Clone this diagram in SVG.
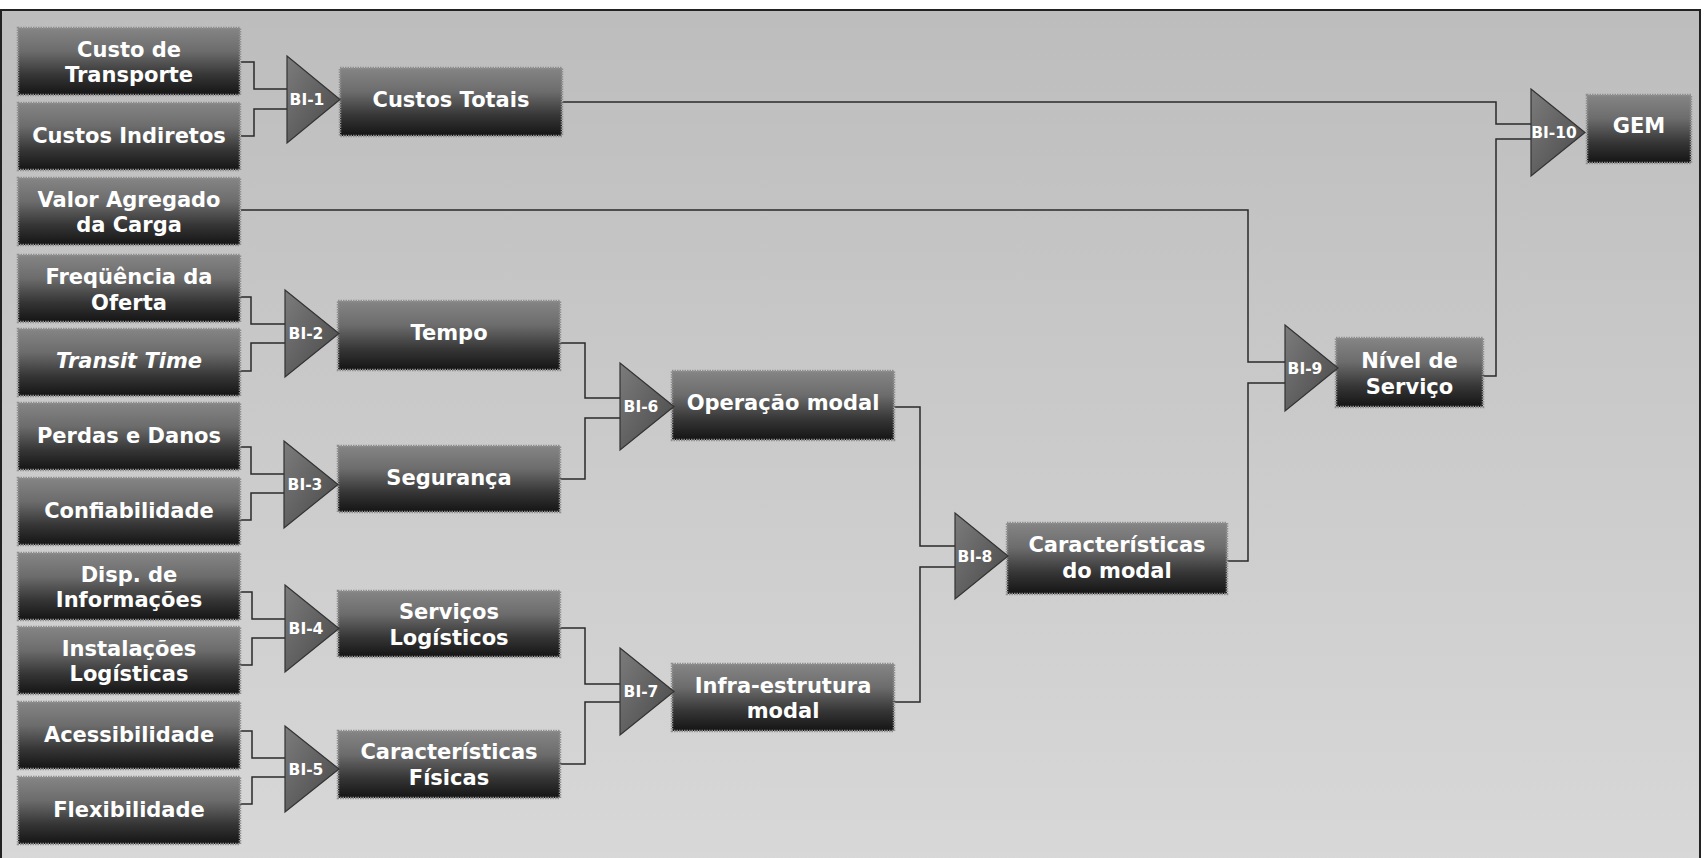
<svg xmlns="http://www.w3.org/2000/svg" width="1704" height="858" viewBox="0 0 1704 858">
  <defs>
    <linearGradient id="bg" x1="0" y1="0" x2="0" y2="1">
      <stop offset="0" stop-color="#bdbdbd"/>
      <stop offset="1" stop-color="#d8d8d8"/>
    </linearGradient>
    <linearGradient id="boxFill" x1="0" y1="0" x2="0" y2="1">
      <stop offset="0" stop-color="#858585"/>
      <stop offset="0.35" stop-color="#6c6c6c"/>
      <stop offset="0.7" stop-color="#363636"/>
      <stop offset="1" stop-color="#141414"/>
    </linearGradient>
    <linearGradient id="triFill" x1="0" y1="0" x2="1" y2="1">
      <stop offset="0" stop-color="#7c7c7c"/>
      <stop offset="1" stop-color="#474747"/>
    </linearGradient>
    <style>
      .box { fill: url(#boxFill); stroke: #8e8e8e; stroke-width: 2.5; stroke-dasharray: 1.5 1; }
      .lbl { font-family: "DejaVu Sans", Verdana, sans-serif; font-weight: bold; font-size: 21px; fill: #ffffff; text-anchor: middle; }
      .it { font-style: italic; }
      .tri { fill: url(#triFill); stroke: #333333; stroke-width: 1.2; stroke-linejoin: miter; }
      .bi { font-family: "DejaVu Sans", Verdana, sans-serif; font-weight: bold; font-size: 15.5px; fill: #ffffff; text-anchor: middle; }
      .wire { fill: none; stroke: #2a2a2a; stroke-width: 1.5; }
    </style>
  </defs>

  <!-- canvas -->
  <rect x="0" y="0" width="1704" height="858" fill="#ffffff"/>
  <rect x="1" y="10" width="1699" height="860" fill="url(#bg)" stroke="#222222" stroke-width="2"/>

  <!-- connectors -->
  <g id="connectors" class="wire">
    <polyline points="241,62 254,62 254,89 287,89"/>
    <polyline points="241,136 254,136 254,109 287,109"/>
    <polyline points="561,102 1496,102 1496,124 1531,124"/>
    <polyline points="241,210 1248,210 1248,362 1285,362"/>
    <polyline points="240,297 251,297 251,324 285,324"/>
    <polyline points="240,371 251,371 251,343 285,343"/>
    <polyline points="240,447 251,447 251,474 284,474"/>
    <polyline points="240,520 251,520 251,493 284,493"/>
    <polyline points="560,343 585,343 585,398 620,398"/>
    <polyline points="560,479 585,479 585,418 620,418"/>
    <polyline points="240,592 252,592 252,619 285,619"/>
    <polyline points="240,665 252,665 252,638 285,638"/>
    <polyline points="240,731 252,731 252,758 285,758"/>
    <polyline points="240,804 252,804 252,777 285,777"/>
    <polyline points="560,628 585,628 585,684 620,684"/>
    <polyline points="560,764 585,764 585,702 620,702"/>
    <polyline points="894,407 920,407 920,546 955,546"/>
    <polyline points="894,702 920,702 920,567 955,567"/>
    <polyline points="1227,561 1248,561 1248,383 1285,383"/>
    <polyline points="1483,376 1496,376 1496,139 1531,139"/>
  </g>

  <!-- input criteria -->
  <g id="custo-transporte">
    <rect class="box" x="18" y="28" width="222" height="67"/>
    <text class="lbl" x="129" y="56.5">Custo de</text>
    <text class="lbl" x="129" y="82">Transporte</text>
  </g>
  <g id="custos-indiretos">
    <rect class="box" x="18" y="103" width="222" height="67"/>
    <text class="lbl" x="129" y="142.5">Custos Indiretos</text>
  </g>
  <g id="valor-agregado">
    <rect class="box" x="18" y="178" width="222" height="67"/>
    <text class="lbl" x="129" y="206.5">Valor Agregado</text>
    <text class="lbl" x="129" y="232">da Carga</text>
  </g>
  <g id="frequencia-oferta">
    <rect class="box" x="18" y="255" width="222" height="67"/>
    <text class="lbl" x="129" y="284">Freqüência da</text>
    <text class="lbl" x="129" y="309.5">Oferta</text>
  </g>
  <g id="transit-time">
    <rect class="box" x="18" y="329" width="222" height="67"/>
    <text class="lbl it" x="129" y="368">Transit Time</text>
  </g>
  <g id="perdas-danos">
    <rect class="box" x="18" y="403" width="222" height="67"/>
    <text class="lbl" x="129" y="442.5">Perdas e Danos</text>
  </g>
  <g id="confiabilidade">
    <rect class="box" x="18" y="478" width="222" height="67"/>
    <text class="lbl" x="129" y="517.5">Confiabilidade</text>
  </g>
  <g id="disp-informacoes">
    <rect class="box" x="18" y="553" width="222" height="67"/>
    <text class="lbl" x="129" y="581.5">Disp. de</text>
    <text class="lbl" x="129" y="607">Informações</text>
  </g>
  <g id="instalacoes-logisticas">
    <rect class="box" x="18" y="627" width="222" height="67"/>
    <text class="lbl" x="129" y="655.5">Instalações</text>
    <text class="lbl" x="129" y="681">Logísticas</text>
  </g>
  <g id="acessibilidade">
    <rect class="box" x="18" y="702" width="222" height="67"/>
    <text class="lbl" x="129" y="741.5">Acessibilidade</text>
  </g>
  <g id="flexibilidade">
    <rect class="box" x="18" y="777" width="222" height="67"/>
    <text class="lbl" x="129" y="816.5">Flexibilidade</text>
  </g>

  <!-- aggregated criteria -->
  <g id="custos-totais">
    <rect class="box" x="340" y="68" width="222" height="68"/>
    <text class="lbl" x="451" y="106.5">Custos Totais</text>
  </g>
  <g id="tempo">
    <rect class="box" x="338" y="301" width="222" height="69"/>
    <text class="lbl" x="449" y="340">Tempo</text>
  </g>
  <g id="seguranca">
    <rect class="box" x="338" y="446" width="222" height="66"/>
    <text class="lbl" x="449" y="484.5">Segurança</text>
  </g>
  <g id="servicos-logisticos">
    <rect class="box" x="338" y="591" width="222" height="66"/>
    <text class="lbl" x="449" y="619">Serviços</text>
    <text class="lbl" x="449" y="645">Logísticos</text>
  </g>
  <g id="caracteristicas-fisicas">
    <rect class="box" x="338" y="731" width="222" height="67"/>
    <text class="lbl" x="449" y="759">Características</text>
    <text class="lbl" x="449" y="785">Físicas</text>
  </g>
  <g id="operacao-modal">
    <rect class="box" x="672" y="371" width="222" height="69"/>
    <text class="lbl" x="783" y="409.5">Operação modal</text>
  </g>
  <g id="infraestrutura-modal">
    <rect class="box" x="672" y="664" width="222" height="67"/>
    <text class="lbl" x="783" y="692.5">Infra-estrutura</text>
    <text class="lbl" x="783" y="718">modal</text>
  </g>
  <g id="caracteristicas-modal">
    <rect class="box" x="1007" y="523" width="220" height="71"/>
    <text class="lbl" x="1117" y="551.5">Características</text>
    <text class="lbl" x="1117" y="577.5">do modal</text>
  </g>
  <g id="nivel-servico">
    <rect class="box" x="1336" y="338" width="147" height="69"/>
    <text class="lbl" x="1409.5" y="367.5">Nível de</text>
    <text class="lbl" x="1409.5" y="393.5">Serviço</text>
  </g>
  <g id="gem">
    <rect class="box" x="1587" y="95" width="104" height="68"/>
    <text class="lbl" x="1639" y="133">GEM</text>
  </g>

  <!-- aggregation operators -->
  <g id="bi-1">
    <polygon class="tri" points="287,56 340,99.5 287,143"/>
    <text class="bi" x="307" y="105">BI-1</text>
  </g>
  <g id="bi-2">
    <polygon class="tri" points="285,290 339,333.5 285,377"/>
    <text class="bi" x="306" y="339">BI-2</text>
  </g>
  <g id="bi-3">
    <polygon class="tri" points="284,441 338,484.5 284,528"/>
    <text class="bi" x="305" y="490">BI-3</text>
  </g>
  <g id="bi-4">
    <polygon class="tri" points="285,585 339,628.5 285,672"/>
    <text class="bi" x="306" y="634">BI-4</text>
  </g>
  <g id="bi-5">
    <polygon class="tri" points="285,726 339,769 285,812"/>
    <text class="bi" x="306" y="774.5">BI-5</text>
  </g>
  <g id="bi-6">
    <polygon class="tri" points="620,363 674,406.5 620,450"/>
    <text class="bi" x="641" y="412">BI-6</text>
  </g>
  <g id="bi-7">
    <polygon class="tri" points="620,648 674,691.5 620,735"/>
    <text class="bi" x="641" y="697">BI-7</text>
  </g>
  <g id="bi-8">
    <polygon class="tri" points="955,513 1008,556 955,599"/>
    <text class="bi" x="975" y="561.5">BI-8</text>
  </g>
  <g id="bi-9">
    <polygon class="tri" points="1285,325 1338,368 1285,411"/>
    <text class="bi" x="1305" y="373.5">BI-9</text>
  </g>
  <g id="bi-10">
    <polygon class="tri" points="1531,89 1585,132.5 1531,176"/>
    <text class="bi" x="1554" y="138">BI-10</text>
  </g>
</svg>
